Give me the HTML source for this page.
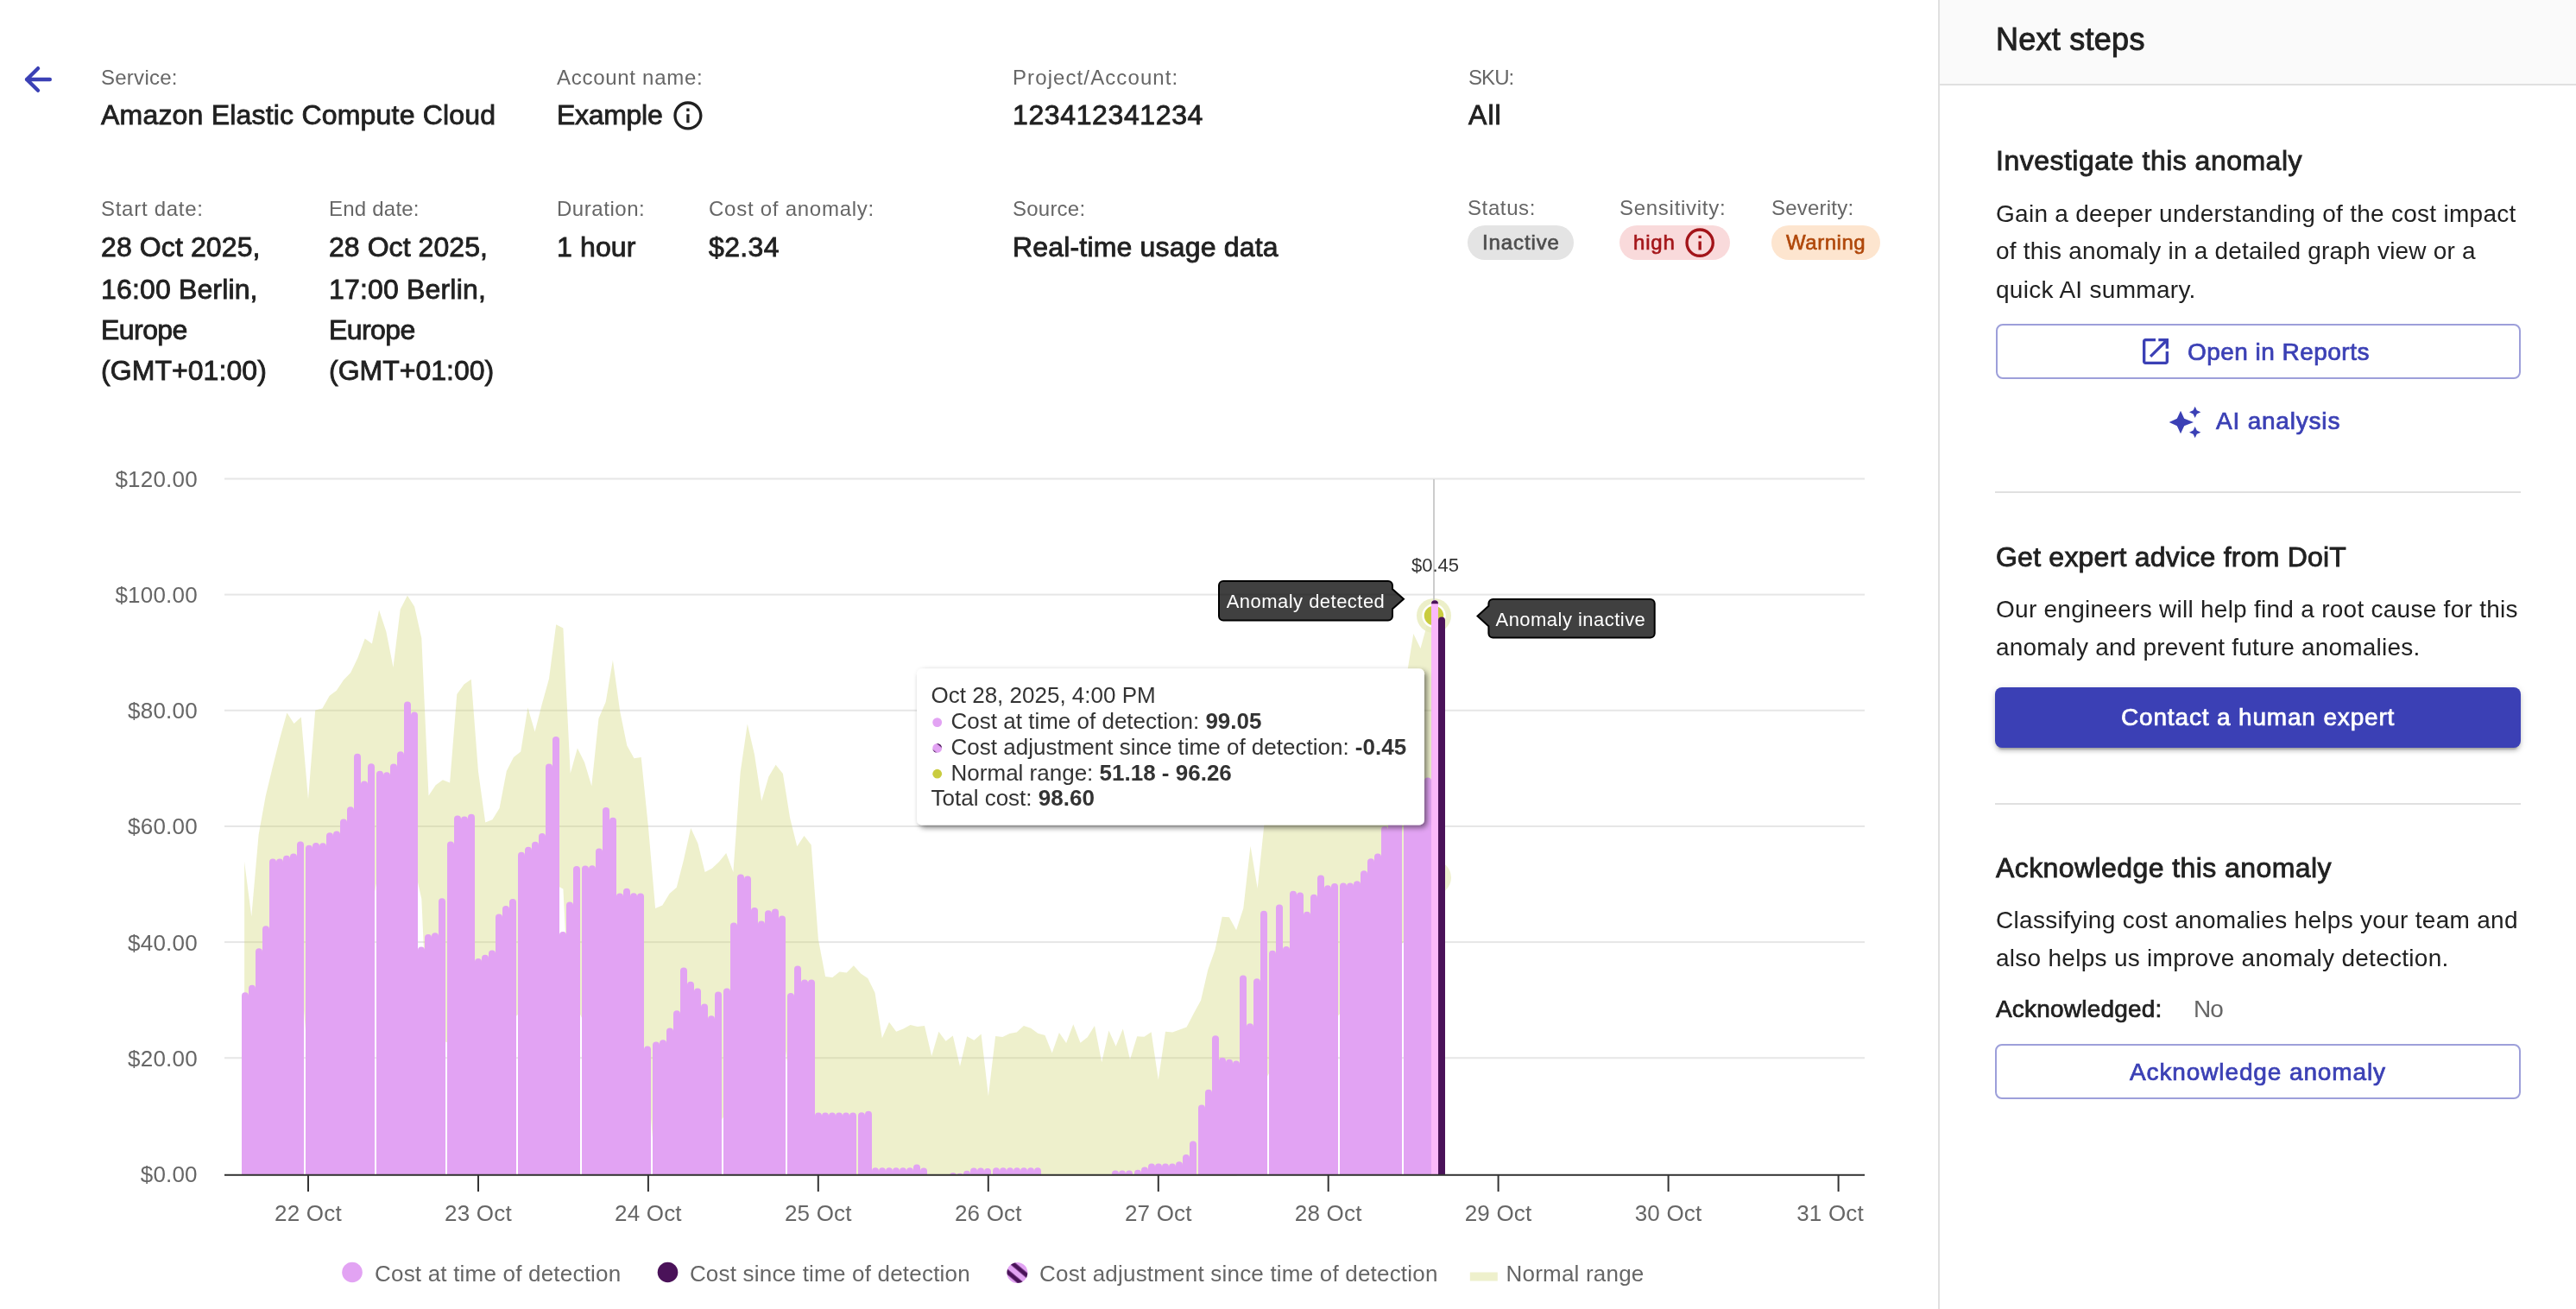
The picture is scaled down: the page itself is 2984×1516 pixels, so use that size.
<!DOCTYPE html><html><head><meta charset="utf-8"><title>Anomaly</title><style>
html,body{margin:0;padding:0;}
body{width:2984px;height:1516px;position:relative;overflow:hidden;background:#fff;font-family:"Liberation Sans", Arial, sans-serif;}
.abs{position:absolute;}
.t{position:absolute;white-space:nowrap;line-height:1.2;will-change:transform;}
.ax{font-size:26px;fill:#666666;letter-spacing:0.2px}
.lg{font-size:26px;fill:#666666;letter-spacing:0.2px}
</style></head><body><svg class="abs" width="2984" height="1516" viewBox="0 0 2984 1516" style="left:0;top:0;will-change:transform;font-family:'Liberation Sans',Arial,sans-serif"><rect x="260" y="553.50" width="1900" height="2" fill="#e6e6e6"/><rect x="260" y="687.65" width="1900" height="2" fill="#e6e6e6"/><rect x="260" y="821.80" width="1900" height="2" fill="#e6e6e6"/><rect x="260" y="955.95" width="1900" height="2" fill="#e6e6e6"/><rect x="260" y="1090.10" width="1900" height="2" fill="#e6e6e6"/><rect x="260" y="1224.25" width="1900" height="2" fill="#e6e6e6"/><polygon fill="rgb(206,212,109)" fill-opacity="0.35" points="283.1,998.0 291.3,1061.5 299.6,966.8 307.8,921.6 316.0,887.6 324.2,855.0 332.4,825.4 340.6,838.0 348.8,830.5 357.0,925.8 365.2,822.6 373.4,820.4 381.6,805.9 389.8,799.8 398.0,787.6 406.2,779.0 414.4,762.0 422.7,739.4 430.9,745.5 439.1,706.4 447.3,731.3 455.5,772.9 463.7,705.7 471.9,689.8 480.1,702.5 488.3,739.0 496.5,921.4 504.7,909.2 512.9,903.3 521.1,906.6 529.3,804.1 537.6,792.6 545.8,786.7 554.0,893.5 562.2,952.6 570.4,949.3 578.6,936.0 586.8,893.0 595.0,877.0 603.2,870.4 611.4,819.5 619.6,847.6 627.8,815.5 636.0,786.0 644.2,723.3 652.4,727.6 660.7,895.8 668.9,866.4 677.1,883.0 685.3,910.2 693.5,832.0 701.7,813.0 709.9,764.6 718.1,823.2 726.3,863.5 734.5,878.2 742.7,876.9 750.9,956.9 759.1,1052.0 767.3,1048.4 775.5,1035.0 783.8,1027.7 792.0,995.7 800.2,959.0 808.4,976.8 816.6,1010.0 824.8,1005.7 833.0,998.1 841.2,988.0 849.4,1010.0 857.6,894.8 865.8,838.6 874.0,874.0 882.2,927.8 890.4,899.6 898.6,885.7 906.9,896.0 915.1,947.3 923.3,980.3 931.5,968.0 939.7,978.6 947.9,1088.0 956.1,1131.0 964.3,1132.0 972.5,1125.5 980.7,1126.5 988.9,1118.2 997.1,1127.6 1005.3,1133.0 1013.5,1149.7 1021.8,1202.2 1030.0,1183.8 1038.2,1194.8 1046.4,1191.4 1054.6,1187.0 1062.8,1189.0 1071.0,1188.1 1079.2,1222.9 1087.4,1194.8 1095.6,1205.8 1103.8,1199.6 1112.0,1235.0 1120.2,1200.3 1128.4,1204.7 1136.6,1197.4 1144.9,1269.4 1153.1,1200.1 1161.3,1201.0 1169.5,1197.0 1177.7,1195.6 1185.9,1188.1 1194.1,1190.8 1202.3,1196.7 1210.5,1199.0 1218.7,1219.6 1226.9,1195.9 1235.1,1208.0 1243.3,1186.3 1251.5,1207.8 1259.7,1201.2 1268.0,1188.1 1276.2,1230.2 1284.4,1193.4 1292.6,1211.8 1300.8,1191.4 1309.0,1227.3 1317.2,1200.3 1325.4,1200.7 1333.6,1195.2 1341.8,1250.6 1350.0,1194.8 1358.2,1195.6 1366.4,1192.5 1374.6,1189.5 1382.9,1173.4 1391.1,1158.5 1399.3,1123.0 1407.5,1100.0 1415.7,1061.8 1423.9,1062.3 1432.1,1077.2 1440.3,1052.0 1448.5,979.8 1456.7,1029.0 1464.9,950.0 1473.1,935.8 1481.3,929.2 1489.5,922.8 1497.7,916.2 1506.0,909.8 1514.2,903.2 1522.4,896.8 1530.6,890.2 1538.8,883.8 1547.0,877.2 1555.2,869.3 1563.4,860.0 1571.6,850.7 1579.8,841.3 1588.0,832.0 1596.2,822.7 1604.4,813.3 1612.6,804.0 1620.8,794.7 1629.1,785.0 1637.3,734.0 1645.5,751.0 1653.7,721.0 1661.9,714.0 1661.9,1016.0 1653.7,1023.0 1645.5,1053.0 1637.3,1036.0 1629.1,1087.0 1620.8,1096.7 1612.6,1106.0 1604.4,1115.3 1596.2,1124.7 1588.0,1134.0 1579.8,1143.3 1571.6,1152.7 1563.4,1162.0 1555.2,1171.3 1547.0,1179.2 1538.8,1185.8 1530.6,1192.2 1522.4,1198.8 1514.2,1205.2 1506.0,1211.8 1497.7,1218.2 1489.5,1224.8 1481.3,1231.2 1473.1,1237.8 1464.9,1252.0 1456.7,1331.0 1448.5,1281.8 1440.3,1354.0 1432.1,1362.0 1423.9,1362.0 1415.7,1362.0 1407.5,1362.0 1399.3,1362.0 1391.1,1362.0 1382.9,1362.0 1374.6,1362.0 1366.4,1362.0 1358.2,1362.0 1350.0,1362.0 1341.8,1362.0 1333.6,1362.0 1325.4,1362.0 1317.2,1362.0 1309.0,1362.0 1300.8,1362.0 1292.6,1362.0 1284.4,1362.0 1276.2,1362.0 1268.0,1362.0 1259.7,1362.0 1251.5,1362.0 1243.3,1362.0 1235.1,1362.0 1226.9,1362.0 1218.7,1362.0 1210.5,1362.0 1202.3,1362.0 1194.1,1362.0 1185.9,1362.0 1177.7,1362.0 1169.5,1362.0 1161.3,1362.0 1153.1,1362.0 1144.9,1362.0 1136.6,1362.0 1128.4,1362.0 1120.2,1362.0 1112.0,1362.0 1103.8,1362.0 1095.6,1362.0 1087.4,1362.0 1079.2,1362.0 1071.0,1362.0 1062.8,1362.0 1054.6,1362.0 1046.4,1362.0 1038.2,1362.0 1030.0,1362.0 1021.8,1362.0 1013.5,1362.0 1005.3,1362.0 997.1,1362.0 988.9,1362.0 980.7,1362.0 972.5,1362.0 964.3,1362.0 956.1,1362.0 947.9,1362.0 939.7,1280.6 931.5,1270.0 923.3,1282.3 915.1,1249.3 906.9,1198.0 898.6,1187.7 890.4,1201.6 882.2,1229.8 874.0,1176.0 865.8,1140.6 857.6,1196.8 849.4,1312.0 841.2,1290.0 833.0,1300.1 824.8,1307.7 816.6,1312.0 808.4,1278.8 800.2,1261.0 792.0,1297.7 783.8,1329.7 775.5,1337.0 767.3,1350.4 759.1,1354.0 750.9,1258.9 742.7,1178.9 734.5,1180.2 726.3,1165.5 718.1,1125.2 709.9,1066.6 701.7,1115.0 693.5,1134.0 685.3,1212.2 677.1,1185.0 668.9,1168.4 660.7,1197.8 652.4,1029.6 644.2,1025.3 636.0,1088.0 627.8,1117.5 619.6,1149.6 611.4,1121.5 603.2,1172.4 595.0,1179.0 586.8,1195.0 578.6,1238.0 570.4,1251.3 562.2,1254.6 554.0,1195.5 545.8,1088.7 537.6,1094.6 529.3,1106.1 521.1,1208.6 512.9,1205.3 504.7,1211.2 496.5,1223.4 488.3,1041.0 480.1,1004.5 471.9,991.8 463.7,1007.7 455.5,1074.9 447.3,1033.3 439.1,1008.4 430.9,1047.5 422.7,1041.4 414.4,1064.0 406.2,1081.0 398.0,1089.6 389.8,1101.8 381.6,1107.9 373.4,1122.4 365.2,1124.6 357.0,1227.8 348.8,1132.5 340.6,1140.0 332.4,1127.4 324.2,1157.0 316.0,1189.6 307.8,1223.6 299.6,1268.8 291.3,1362.0 283.1,1300.0"/><circle cx="1661" cy="1016.4" r="20" fill="#eef0cc" opacity="0.9"/><circle cx="1661" cy="713" r="20" fill="#e9ecc0" opacity="0.85"/><circle cx="1661" cy="713" r="12.5" fill="#c9cc3f" stroke="#ffffff" stroke-width="2.5"/><g clip-path="url(#plotclip)"><path d="M280,1364.0 V1153.20 A4.0,4.0 0 0 1 288,1153.20 V1364.0 Z" fill="#e2a3f3"/><path d="M288,1364.0 V1144.70 A4.0,4.0 0 0 1 296,1144.70 V1364.0 Z" fill="#e2a3f3"/><path d="M296,1364.0 V1102.30 A4.0,4.0 0 0 1 304,1102.30 V1364.0 Z" fill="#e2a3f3"/><path d="M304,1364.0 V1076.30 A4.0,4.0 0 0 1 312,1076.30 V1364.0 Z" fill="#e2a3f3"/><path d="M312,1364.0 V998.50 A4.0,4.0 0 0 1 320,998.50 V1364.0 Z" fill="#e2a3f3"/><path d="M320,1364.0 V998.50 A4.0,4.0 0 0 1 328,998.50 V1364.0 Z" fill="#e2a3f3"/><path d="M328,1364.0 V994.80 A4.0,4.0 0 0 1 336,994.80 V1364.0 Z" fill="#e2a3f3"/><path d="M336,1364.0 V992.60 A4.0,4.0 0 0 1 344,992.60 V1364.0 Z" fill="#e2a3f3"/><path d="M344,1364.0 V978.40 A4.0,4.0 0 0 1 352,978.40 V1364.0 Z" fill="#e2a3f3"/><path d="M354,1364.0 V982.70 A4.0,4.0 0 0 1 362,982.70 V1364.0 Z" fill="#e2a3f3"/><path d="M362,1364.0 V980.10 A4.0,4.0 0 0 1 370,980.10 V1364.0 Z" fill="#e2a3f3"/><path d="M370,1364.0 V980.30 A4.0,4.0 0 0 1 378,980.30 V1364.0 Z" fill="#e2a3f3"/><path d="M378,1364.0 V968.20 A4.0,4.0 0 0 1 386,968.20 V1364.0 Z" fill="#e2a3f3"/><path d="M386,1364.0 V966.40 A4.0,4.0 0 0 1 394,966.40 V1364.0 Z" fill="#e2a3f3"/><path d="M394,1364.0 V952.50 A4.0,4.0 0 0 1 402,952.50 V1364.0 Z" fill="#e2a3f3"/><path d="M402,1364.0 V938.30 A4.0,4.0 0 0 1 410,938.30 V1364.0 Z" fill="#e2a3f3"/><path d="M410,1364.0 V876.70 A4.0,4.0 0 0 1 418,876.70 V1364.0 Z" fill="#e2a3f3"/><path d="M418,1364.0 V908.40 A4.0,4.0 0 0 1 426,908.40 V1364.0 Z" fill="#e2a3f3"/><path d="M426,1364.0 V888.20 A4.0,4.0 0 0 1 434,888.20 V1364.0 Z" fill="#e2a3f3"/><path d="M436,1364.0 V896.70 A4.0,4.0 0 0 1 444,896.70 V1364.0 Z" fill="#e2a3f3"/><path d="M444,1364.0 V898.20 A4.0,4.0 0 0 1 452,898.20 V1364.0 Z" fill="#e2a3f3"/><path d="M452,1364.0 V888.40 A4.0,4.0 0 0 1 460,888.40 V1364.0 Z" fill="#e2a3f3"/><path d="M460,1364.0 V874.20 A4.0,4.0 0 0 1 468,874.20 V1364.0 Z" fill="#e2a3f3"/><path d="M468,1364.0 V816.50 A4.0,4.0 0 0 1 476,816.50 V1364.0 Z" fill="#e2a3f3"/><path d="M476,1364.0 V828.40 A4.0,4.0 0 0 1 484,828.40 V1364.0 Z" fill="#e2a3f3"/><path d="M484,1364.0 V1100.50 A4.0,4.0 0 0 1 492,1100.50 V1364.0 Z" fill="#e2a3f3"/><path d="M492,1364.0 V1086.00 A4.0,4.0 0 0 1 500,1086.00 V1364.0 Z" fill="#e2a3f3"/><path d="M500,1364.0 V1084.30 A4.0,4.0 0 0 1 508,1084.30 V1364.0 Z" fill="#e2a3f3"/><path d="M508,1364.0 V1044.20 A4.0,4.0 0 0 1 516,1044.20 V1364.0 Z" fill="#e2a3f3"/><path d="M518,1364.0 V978.60 A4.0,4.0 0 0 1 526,978.60 V1364.0 Z" fill="#e2a3f3"/><path d="M526,1364.0 V948.40 A4.0,4.0 0 0 1 534,948.40 V1364.0 Z" fill="#e2a3f3"/><path d="M534,1364.0 V949.40 A4.0,4.0 0 0 1 542,949.40 V1364.0 Z" fill="#e2a3f3"/><path d="M542,1364.0 V946.70 A4.0,4.0 0 0 1 550,946.70 V1364.0 Z" fill="#e2a3f3"/><path d="M550,1364.0 V1114.00 A4.0,4.0 0 0 1 558,1114.00 V1364.0 Z" fill="#e2a3f3"/><path d="M558,1364.0 V1109.80 A4.0,4.0 0 0 1 566,1109.80 V1364.0 Z" fill="#e2a3f3"/><path d="M566,1364.0 V1104.50 A4.0,4.0 0 0 1 574,1104.50 V1364.0 Z" fill="#e2a3f3"/><path d="M574,1364.0 V1062.50 A4.0,4.0 0 0 1 582,1062.50 V1364.0 Z" fill="#e2a3f3"/><path d="M582,1364.0 V1052.90 A4.0,4.0 0 0 1 590,1052.90 V1364.0 Z" fill="#e2a3f3"/><path d="M590,1364.0 V1044.90 A4.0,4.0 0 0 1 598,1044.90 V1364.0 Z" fill="#e2a3f3"/><path d="M600,1364.0 V990.80 A4.0,4.0 0 0 1 608,990.80 V1364.0 Z" fill="#e2a3f3"/><path d="M608,1364.0 V984.70 A4.0,4.0 0 0 1 616,984.70 V1364.0 Z" fill="#e2a3f3"/><path d="M616,1364.0 V978.80 A4.0,4.0 0 0 1 624,978.80 V1364.0 Z" fill="#e2a3f3"/><path d="M624,1364.0 V968.90 A4.0,4.0 0 0 1 632,968.90 V1364.0 Z" fill="#e2a3f3"/><path d="M632,1364.0 V888.60 A4.0,4.0 0 0 1 640,888.60 V1364.0 Z" fill="#e2a3f3"/><path d="M640,1364.0 V857.00 A4.0,4.0 0 0 1 648,857.00 V1364.0 Z" fill="#e2a3f3"/><path d="M648,1364.0 V1083.00 A4.0,4.0 0 0 1 656,1083.00 V1364.0 Z" fill="#e2a3f3"/><path d="M656,1364.0 V1048.40 A4.0,4.0 0 0 1 664,1048.40 V1364.0 Z" fill="#e2a3f3"/><path d="M664,1364.0 V1006.90 A4.0,4.0 0 0 1 672,1006.90 V1364.0 Z" fill="#e2a3f3"/><path d="M674,1364.0 V1006.50 A4.0,4.0 0 0 1 682,1006.50 V1364.0 Z" fill="#e2a3f3"/><path d="M682,1364.0 V1006.30 A4.0,4.0 0 0 1 690,1006.30 V1364.0 Z" fill="#e2a3f3"/><path d="M690,1364.0 V986.60 A4.0,4.0 0 0 1 698,986.60 V1364.0 Z" fill="#e2a3f3"/><path d="M698,1364.0 V938.90 A4.0,4.0 0 0 1 706,938.90 V1364.0 Z" fill="#e2a3f3"/><path d="M706,1364.0 V950.80 A4.0,4.0 0 0 1 714,950.80 V1364.0 Z" fill="#e2a3f3"/><path d="M714,1364.0 V1038.60 A4.0,4.0 0 0 1 722,1038.60 V1364.0 Z" fill="#e2a3f3"/><path d="M722,1364.0 V1032.80 A4.0,4.0 0 0 1 730,1032.80 V1364.0 Z" fill="#e2a3f3"/><path d="M730,1364.0 V1038.30 A4.0,4.0 0 0 1 738,1038.30 V1364.0 Z" fill="#e2a3f3"/><path d="M738,1364.0 V1038.60 A4.0,4.0 0 0 1 746,1038.60 V1364.0 Z" fill="#e2a3f3"/><path d="M746,1364.0 V1215.40 A4.0,4.0 0 0 1 754,1215.40 V1364.0 Z" fill="#e2a3f3"/><path d="M756,1364.0 V1210.40 A4.0,4.0 0 0 1 764,1210.40 V1364.0 Z" fill="#e2a3f3"/><path d="M764,1364.0 V1208.30 A4.0,4.0 0 0 1 772,1208.30 V1364.0 Z" fill="#e2a3f3"/><path d="M772,1364.0 V1194.60 A4.0,4.0 0 0 1 780,1194.60 V1364.0 Z" fill="#e2a3f3"/><path d="M780,1364.0 V1174.20 A4.0,4.0 0 0 1 788,1174.20 V1364.0 Z" fill="#e2a3f3"/><path d="M788,1364.0 V1124.50 A4.0,4.0 0 0 1 796,1124.50 V1364.0 Z" fill="#e2a3f3"/><path d="M796,1364.0 V1140.70 A4.0,4.0 0 0 1 804,1140.70 V1364.0 Z" fill="#e2a3f3"/><path d="M804,1364.0 V1148.40 A4.0,4.0 0 0 1 812,1148.40 V1364.0 Z" fill="#e2a3f3"/><path d="M812,1364.0 V1166.50 A4.0,4.0 0 0 1 820,1166.50 V1364.0 Z" fill="#e2a3f3"/><path d="M820,1364.0 V1180.30 A4.0,4.0 0 0 1 828,1180.30 V1364.0 Z" fill="#e2a3f3"/><path d="M828,1364.0 V1152.50 A4.0,4.0 0 0 1 836,1152.50 V1364.0 Z" fill="#e2a3f3"/><path d="M838,1364.0 V1148.60 A4.0,4.0 0 0 1 846,1148.60 V1364.0 Z" fill="#e2a3f3"/><path d="M846,1364.0 V1072.60 A4.0,4.0 0 0 1 854,1072.60 V1364.0 Z" fill="#e2a3f3"/><path d="M854,1364.0 V1016.50 A4.0,4.0 0 0 1 862,1016.50 V1364.0 Z" fill="#e2a3f3"/><path d="M862,1364.0 V1018.40 A4.0,4.0 0 0 1 870,1018.40 V1364.0 Z" fill="#e2a3f3"/><path d="M870,1364.0 V1055.00 A4.0,4.0 0 0 1 878,1055.00 V1364.0 Z" fill="#e2a3f3"/><path d="M878,1364.0 V1070.60 A4.0,4.0 0 0 1 886,1070.60 V1364.0 Z" fill="#e2a3f3"/><path d="M886,1364.0 V1058.30 A4.0,4.0 0 0 1 894,1058.30 V1364.0 Z" fill="#e2a3f3"/><path d="M894,1364.0 V1056.40 A4.0,4.0 0 0 1 902,1056.40 V1364.0 Z" fill="#e2a3f3"/><path d="M902,1364.0 V1064.40 A4.0,4.0 0 0 1 910,1064.40 V1364.0 Z" fill="#e2a3f3"/><path d="M912,1364.0 V1154.10 A4.0,4.0 0 0 1 920,1154.10 V1364.0 Z" fill="#e2a3f3"/><path d="M920,1364.0 V1122.50 A4.0,4.0 0 0 1 928,1122.50 V1364.0 Z" fill="#e2a3f3"/><path d="M928,1364.0 V1138.50 A4.0,4.0 0 0 1 936,1138.50 V1364.0 Z" fill="#e2a3f3"/><path d="M936,1364.0 V1138.50 A4.0,4.0 0 0 1 944,1138.50 V1364.0 Z" fill="#e2a3f3"/><path d="M944,1364.0 V1292.50 A4.0,4.0 0 0 1 952,1292.50 V1364.0 Z" fill="#e2a3f3"/><path d="M952,1364.0 V1292.50 A4.0,4.0 0 0 1 960,1292.50 V1364.0 Z" fill="#e2a3f3"/><path d="M960,1364.0 V1292.50 A4.0,4.0 0 0 1 968,1292.50 V1364.0 Z" fill="#e2a3f3"/><path d="M968,1364.0 V1292.50 A4.0,4.0 0 0 1 976,1292.50 V1364.0 Z" fill="#e2a3f3"/><path d="M976,1364.0 V1292.50 A4.0,4.0 0 0 1 984,1292.50 V1364.0 Z" fill="#e2a3f3"/><path d="M984,1364.0 V1292.50 A4.0,4.0 0 0 1 992,1292.50 V1364.0 Z" fill="#e2a3f3"/><path d="M994,1364.0 V1292.20 A4.0,4.0 0 0 1 1002,1292.20 V1364.0 Z" fill="#e2a3f3"/><path d="M1002,1364.0 V1290.70 A4.0,4.0 0 0 1 1010,1290.70 V1364.0 Z" fill="#e2a3f3"/><path d="M1010,1364.0 V1356.30 A4.0,4.0 0 0 1 1018,1356.30 V1364.0 Z" fill="#e2a3f3"/><path d="M1018,1364.0 V1356.30 A4.0,4.0 0 0 1 1026,1356.30 V1364.0 Z" fill="#e2a3f3"/><path d="M1026,1364.0 V1356.30 A4.0,4.0 0 0 1 1034,1356.30 V1364.0 Z" fill="#e2a3f3"/><path d="M1034,1364.0 V1356.30 A4.0,4.0 0 0 1 1042,1356.30 V1364.0 Z" fill="#e2a3f3"/><path d="M1042,1364.0 V1356.30 A4.0,4.0 0 0 1 1050,1356.30 V1364.0 Z" fill="#e2a3f3"/><path d="M1050,1364.0 V1356.30 A4.0,4.0 0 0 1 1058,1356.30 V1364.0 Z" fill="#e2a3f3"/><path d="M1058,1364.0 V1352.60 A4.0,4.0 0 0 1 1066,1352.60 V1364.0 Z" fill="#e2a3f3"/><path d="M1066,1364.0 V1356.60 A4.0,4.0 0 0 1 1074,1356.60 V1364.0 Z" fill="#e2a3f3"/><path d="M1100,1364.0 V1362.00 A4.0,4.0 0 0 1 1108,1362.00 V1364.0 Z" fill="#e2a3f3"/><path d="M1108,1364.0 V1362.70 A4.0,4.0 0 0 1 1116,1362.70 V1364.0 Z" fill="#e2a3f3"/><path d="M1116,1364.0 V1359.80 A4.0,4.0 0 0 1 1124,1359.80 V1364.0 Z" fill="#e2a3f3"/><path d="M1124,1364.0 V1356.50 A4.0,4.0 0 0 1 1132,1356.50 V1364.0 Z" fill="#e2a3f3"/><path d="M1132,1364.0 V1356.50 A4.0,4.0 0 0 1 1140,1356.50 V1364.0 Z" fill="#e2a3f3"/><path d="M1140,1364.0 V1356.90 A4.0,4.0 0 0 1 1148,1356.90 V1364.0 Z" fill="#e2a3f3"/><path d="M1150,1364.0 V1356.30 A4.0,4.0 0 0 1 1158,1356.30 V1364.0 Z" fill="#e2a3f3"/><path d="M1158,1364.0 V1356.30 A4.0,4.0 0 0 1 1166,1356.30 V1364.0 Z" fill="#e2a3f3"/><path d="M1166,1364.0 V1356.30 A4.0,4.0 0 0 1 1174,1356.30 V1364.0 Z" fill="#e2a3f3"/><path d="M1174,1364.0 V1356.30 A4.0,4.0 0 0 1 1182,1356.30 V1364.0 Z" fill="#e2a3f3"/><path d="M1182,1364.0 V1356.30 A4.0,4.0 0 0 1 1190,1356.30 V1364.0 Z" fill="#e2a3f3"/><path d="M1190,1364.0 V1356.30 A4.0,4.0 0 0 1 1198,1356.30 V1364.0 Z" fill="#e2a3f3"/><path d="M1198,1364.0 V1356.30 A4.0,4.0 0 0 1 1206,1356.30 V1364.0 Z" fill="#e2a3f3"/><path d="M1288,1364.0 V1359.40 A4.0,4.0 0 0 1 1296,1359.40 V1364.0 Z" fill="#e2a3f3"/><path d="M1296,1364.0 V1359.40 A4.0,4.0 0 0 1 1304,1359.40 V1364.0 Z" fill="#e2a3f3"/><path d="M1304,1364.0 V1359.40 A4.0,4.0 0 0 1 1312,1359.40 V1364.0 Z" fill="#e2a3f3"/><path d="M1314,1364.0 V1358.70 A4.0,4.0 0 0 1 1322,1358.70 V1364.0 Z" fill="#e2a3f3"/><path d="M1322,1364.0 V1355.40 A4.0,4.0 0 0 1 1330,1355.40 V1364.0 Z" fill="#e2a3f3"/><path d="M1330,1364.0 V1351.40 A4.0,4.0 0 0 1 1338,1351.40 V1364.0 Z" fill="#e2a3f3"/><path d="M1338,1364.0 V1351.40 A4.0,4.0 0 0 1 1346,1351.40 V1364.0 Z" fill="#e2a3f3"/><path d="M1346,1364.0 V1351.40 A4.0,4.0 0 0 1 1354,1351.40 V1364.0 Z" fill="#e2a3f3"/><path d="M1354,1364.0 V1351.40 A4.0,4.0 0 0 1 1362,1351.40 V1364.0 Z" fill="#e2a3f3"/><path d="M1362,1364.0 V1349.20 A4.0,4.0 0 0 1 1370,1349.20 V1364.0 Z" fill="#e2a3f3"/><path d="M1370,1364.0 V1341.00 A4.0,4.0 0 0 1 1378,1341.00 V1364.0 Z" fill="#e2a3f3"/><path d="M1378,1364.0 V1325.50 A4.0,4.0 0 0 1 1386,1325.50 V1364.0 Z" fill="#e2a3f3"/><path d="M1388,1364.0 V1283.40 A4.0,4.0 0 0 1 1396,1283.40 V1364.0 Z" fill="#e2a3f3"/><path d="M1396,1364.0 V1265.70 A4.0,4.0 0 0 1 1404,1265.70 V1364.0 Z" fill="#e2a3f3"/><path d="M1404,1364.0 V1203.20 A4.0,4.0 0 0 1 1412,1203.20 V1364.0 Z" fill="#e2a3f3"/><path d="M1412,1364.0 V1228.80 A4.0,4.0 0 0 1 1420,1228.80 V1364.0 Z" fill="#e2a3f3"/><path d="M1420,1364.0 V1230.70 A4.0,4.0 0 0 1 1428,1230.70 V1364.0 Z" fill="#e2a3f3"/><path d="M1428,1364.0 V1232.60 A4.0,4.0 0 0 1 1436,1232.60 V1364.0 Z" fill="#e2a3f3"/><path d="M1436,1364.0 V1133.50 A4.0,4.0 0 0 1 1444,1133.50 V1364.0 Z" fill="#e2a3f3"/><path d="M1444,1364.0 V1189.30 A4.0,4.0 0 0 1 1452,1189.30 V1364.0 Z" fill="#e2a3f3"/><path d="M1452,1364.0 V1137.20 A4.0,4.0 0 0 1 1460,1137.20 V1364.0 Z" fill="#e2a3f3"/><path d="M1460,1364.0 V1058.80 A4.0,4.0 0 0 1 1468,1058.80 V1364.0 Z" fill="#e2a3f3"/><path d="M1470,1364.0 V1104.80 A4.0,4.0 0 0 1 1478,1104.80 V1364.0 Z" fill="#e2a3f3"/><path d="M1478,1364.0 V1051.60 A4.0,4.0 0 0 1 1486,1051.60 V1364.0 Z" fill="#e2a3f3"/><path d="M1486,1364.0 V1099.90 A4.0,4.0 0 0 1 1494,1099.90 V1364.0 Z" fill="#e2a3f3"/><path d="M1494,1364.0 V1035.70 A4.0,4.0 0 0 1 1502,1035.70 V1364.0 Z" fill="#e2a3f3"/><path d="M1502,1364.0 V1037.50 A4.0,4.0 0 0 1 1510,1037.50 V1364.0 Z" fill="#e2a3f3"/><path d="M1510,1364.0 V1059.80 A4.0,4.0 0 0 1 1518,1059.80 V1364.0 Z" fill="#e2a3f3"/><path d="M1518,1364.0 V1039.80 A4.0,4.0 0 0 1 1526,1039.80 V1364.0 Z" fill="#e2a3f3"/><path d="M1526,1364.0 V1017.40 A4.0,4.0 0 0 1 1534,1017.40 V1364.0 Z" fill="#e2a3f3"/><path d="M1534,1364.0 V1029.30 A4.0,4.0 0 0 1 1542,1029.30 V1364.0 Z" fill="#e2a3f3"/><path d="M1542,1364.0 V1027.00 A4.0,4.0 0 0 1 1550,1027.00 V1364.0 Z" fill="#e2a3f3"/><path d="M1552,1364.0 V1026.50 A4.0,4.0 0 0 1 1560,1026.50 V1364.0 Z" fill="#e2a3f3"/><path d="M1560,1364.0 V1026.50 A4.0,4.0 0 0 1 1568,1026.50 V1364.0 Z" fill="#e2a3f3"/><path d="M1568,1364.0 V1024.30 A4.0,4.0 0 0 1 1576,1024.30 V1364.0 Z" fill="#e2a3f3"/><path d="M1576,1364.0 V1012.30 A4.0,4.0 0 0 1 1584,1012.30 V1364.0 Z" fill="#e2a3f3"/><path d="M1584,1364.0 V998.30 A4.0,4.0 0 0 1 1592,998.30 V1364.0 Z" fill="#e2a3f3"/><path d="M1592,1364.0 V992.40 A4.0,4.0 0 0 1 1600,992.40 V1364.0 Z" fill="#e2a3f3"/><path d="M1600,1364.0 V961.00 A4.0,4.0 0 0 1 1608,961.00 V1364.0 Z" fill="#e2a3f3"/><path d="M1608,1364.0 V956.00 A4.0,4.0 0 0 1 1616,956.00 V1364.0 Z" fill="#e2a3f3"/><path d="M1616,1364.0 V949.00 A4.0,4.0 0 0 1 1624,949.00 V1364.0 Z" fill="#e2a3f3"/><path d="M1626,1364.0 V939.00 A4.0,4.0 0 0 1 1634,939.00 V1364.0 Z" fill="#e2a3f3"/><path d="M1634,1364.0 V924.00 A4.0,4.0 0 0 1 1642,924.00 V1364.0 Z" fill="#e2a3f3"/><path d="M1642,1364.0 V914.00 A4.0,4.0 0 0 1 1650,914.00 V1364.0 Z" fill="#e2a3f3"/><path d="M1650,1364.0 V904.40 A4.0,4.0 0 0 1 1658,904.40 V1364.0 Z" fill="#e2a3f3"/></g><g clip-path="url(#plotclip)"><path d="M1658,1364.0 V699.30 A4.0,4.0 0 0 1 1666,699.30 V1364.0 Z" fill="#fab8fa"/><path d="M1658,699.3 V699.3 A4,4 0 0 1 1666,699.3 Z" fill="#4a1259"/><path d="M1666,1364.0 V718.60 A4.0,4.0 0 0 1 1674,718.60 V1364.0 Z" fill="#4a1259"/></g><rect x="260" y="1359.8" width="1900" height="2" fill="#333333"/><rect x="356.0" y="1361" width="2" height="19" fill="#333333"/><rect x="553.0" y="1361" width="2" height="19" fill="#333333"/><rect x="749.9" y="1361" width="2" height="19" fill="#333333"/><rect x="946.8" y="1361" width="2" height="19" fill="#333333"/><rect x="1143.8" y="1361" width="2" height="19" fill="#333333"/><rect x="1340.8" y="1361" width="2" height="19" fill="#333333"/><rect x="1537.7" y="1361" width="2" height="19" fill="#333333"/><rect x="1734.6" y="1361" width="2" height="19" fill="#333333"/><rect x="1931.6" y="1361" width="2" height="19" fill="#333333"/><rect x="2128.6" y="1361" width="2" height="19" fill="#333333"/><text x="357.0" y="1414" text-anchor="middle" class="ax">22 Oct</text><text x="554.0" y="1414" text-anchor="middle" class="ax">23 Oct</text><text x="750.9" y="1414" text-anchor="middle" class="ax">24 Oct</text><text x="947.8" y="1414" text-anchor="middle" class="ax">25 Oct</text><text x="1144.8" y="1414" text-anchor="middle" class="ax">26 Oct</text><text x="1341.8" y="1414" text-anchor="middle" class="ax">27 Oct</text><text x="1538.7" y="1414" text-anchor="middle" class="ax">28 Oct</text><text x="1735.6" y="1414" text-anchor="middle" class="ax">29 Oct</text><text x="1932.6" y="1414" text-anchor="middle" class="ax">30 Oct</text><text x="2159" y="1414" text-anchor="end" class="ax">31 Oct</text><text x="228.8" y="564.0" text-anchor="end" class="ax">$120.00</text><text x="228.8" y="698.1" text-anchor="end" class="ax">$100.00</text><text x="228.8" y="832.2" text-anchor="end" class="ax">$80.00</text><text x="228.8" y="966.4" text-anchor="end" class="ax">$60.00</text><text x="228.8" y="1100.5" text-anchor="end" class="ax">$40.00</text><text x="228.8" y="1234.7" text-anchor="end" class="ax">$20.00</text><text x="228.8" y="1368.9" text-anchor="end" class="ax">$0.00</text><rect x="1660" y="555" width="2" height="140" fill="#cccccc"/><text x="1662.5" y="661.8" text-anchor="middle" style="font-size:22px;fill:#333333">$0.45</text><path d="M1417,673 H1608 a5,5 0 0 1 5,5 V682.2 L1626,693.7 L1613,705.2 V713.6 a5,5 0 0 1 -5,5 H1417 a5,5 0 0 1 -5,-5 V678 a5,5 0 0 1 5,-5 Z" fill="rgba(0,0,0,0.75)" stroke="#000" stroke-width="2"/><text x="1420.7" y="703.9" style="font-size:22px;fill:#ffffff;letter-spacing:0.47px">Anomaly detected</text><path d="M1729.4,694 H1911.7 a5,5 0 0 1 5,5 V733.6 a5,5 0 0 1 -5,5 H1729.4 a5,5 0 0 1 -5,-5 V725.3 L1711.5,713.5 L1724.4,701.7 V699 a5,5 0 0 1 5,-5 Z" fill="rgba(0,0,0,0.75)" stroke="#000" stroke-width="2"/><text x="1732.5" y="724.5" style="font-size:22px;fill:#ffffff;letter-spacing:0.47px">Anomaly inactive</text><defs><clipPath id="plotclip"><rect x="250" y="500" width="1950" height="860"/></clipPath><filter id="sh" x="-5%" y="-5%" width="115%" height="120%"><feGaussianBlur in="SourceAlpha" stdDeviation="3"/><feOffset dx="3" dy="3" result="b"/><feComponentTransfer><feFuncA type="linear" slope="0.5"/></feComponentTransfer><feMerge><feMergeNode/><feMergeNode in="SourceGraphic"/></feMerge></filter><pattern id="stripe" patternUnits="userSpaceOnUse" width="30" height="11.3" patternTransform="translate(1178.4,1473.9) rotate(40)"><rect width="30" height="11.3" fill="#e2a3f3"/><rect y="4.1" width="30" height="5" fill="#4a1259"/></pattern><pattern id="stripe2" patternUnits="userSpaceOnUse" width="30" height="13.3" patternTransform="translate(1085.7,866.4) rotate(40)"><rect width="30" height="13.3" fill="#e2a3f3"/><rect y="4.6" width="30" height="5" fill="#4a1259"/></pattern></defs><rect x="1062" y="774.2" width="588" height="181.3" rx="6" fill="#ffffff" filter="url(#sh)"/><g style="font-size:26px;fill:#333333"><text x="1078.5" y="813.6">Oct 28, 2025, 4:00 PM</text><circle cx="1085.7" cy="836.6" r="5.4" fill="#e2a3f3"/><text x="1101.6" y="843.6">Cost at time of detection: <tspan font-weight="700">99.05</tspan></text><circle cx="1085.7" cy="866.4" r="5.4" fill="url(#stripe2)"/><text x="1101.6" y="873.8">Cost adjustment since time of detection: <tspan font-weight="700">-0.45</tspan></text><circle cx="1085.7" cy="896.2" r="5.4" fill="#c9cc3f"/><text x="1101.6" y="903.6">Normal range: <tspan font-weight="700">51.18 - 96.26</tspan></text><text x="1078.5" y="933.4">Total cost: <tspan font-weight="700">98.60</tspan></text></g><circle cx="408" cy="1473.5" r="11.8" fill="#e2a3f3"/><text x="434" y="1483.5" class="lg">Cost at time of detection</text><circle cx="773.5" cy="1473.5" r="11.8" fill="#4a1259"/><text x="798.9" y="1483.5" class="lg">Cost since time of detection</text><circle cx="1178.4" cy="1473.9" r="12" fill="url(#stripe)"/><text x="1204" y="1483.5" class="lg">Cost adjustment since time of detection</text><rect x="1702.8" y="1473.5" width="32" height="10" fill="#eef0cc"/><text x="1744.6" y="1483.5" class="lg">Normal range</text></svg><div class="abs" style="left:2245px;top:0;width:739px;height:1516px;border-left:2px solid #e0e0e0;background:#fff"></div><div class="abs" style="left:2247px;top:0;width:737px;height:96.6px;background:#fafafa;border-bottom:2px solid #e0e0e0"></div><div class="abs" style="left:2311px;top:569.2px;width:609px;height:2px;background:#e0e0e0"></div><div class="abs" style="left:2311px;top:929.7px;width:609px;height:2px;background:#e0e0e0"></div><div class="abs" style="left:2312px;top:375px;width:604px;height:60px;border:2px solid #9d9fda;border-radius:8px"></div><div class="abs" style="left:2311px;top:796px;width:609px;height:70px;background:#3b40b5;border-radius:8px;box-shadow:0 6px 2px -4px rgba(0,0,0,0.2),0 4px 4px 0 rgba(0,0,0,0.14),0 2px 10px 0 rgba(0,0,0,0.12)"></div><div class="abs" style="left:2311px;top:1208.5px;width:605px;height:60.5px;border:2px solid #9d9fda;border-radius:8px"></div><div class="abs" style="left:1700px;top:261px;width:122.7px;height:40px;border-radius:20px;background:#e4e4e4"></div><div class="abs" style="left:1875.8px;top:261px;width:127.9px;height:40px;border-radius:20px;background:#f9dadb"></div><div class="abs" style="left:2052px;top:261px;width:125.6px;height:40px;border-radius:20px;background:#fde5cf"></div><svg class="abs" style="left:0;top:0" width="80" height="130"><path d="M57.8,92 H31 M44,79.2 L31,92 L44,104.8" fill="none" stroke="#3b40b5" stroke-width="4.4" stroke-linecap="round" stroke-linejoin="round"/></svg><svg class="abs" style="left:776.98px;top:113.98px" width="39.84" height="39.84" viewBox="0 0 24 24"><path d="M11 7h2v2h-2zm0 4h2v6h-2zm1-9C6.48 2 2 6.48 2 12s4.48 10 10 10 10-4.48 10-10S17.52 2 12 2m0 18c-4.41 0-8-3.59-8-8s3.59-8 8-8 8 3.59 8 8-3.59 8-8 8" fill="#212121"/></svg><svg class="abs" style="left:1948.74px;top:260.84px" width="40.32" height="40.32" viewBox="0 0 24 24"><path d="M11 7h2v2h-2zm0 4h2v6h-2zm1-9C6.48 2 2 6.48 2 12s4.48 10 10 10 10-4.48 10-10S17.52 2 12 2m0 18c-4.41 0-8-3.59-8-8s3.59-8 8-8 8 3.59 8 8-3.59 8-8 8" fill="#a31419"/></svg><svg class="abs" style="left:2477.00px;top:387.00px" width="40.00" height="40.00" viewBox="0 0 24 24"><path d="M19 19H5V5h7V3H5c-1.11 0-2 .9-2 2v14c0 1.1.89 2 2 2h14c1.1 0 2-.9 2-2v-7h-2v7zM14 3v2h3.59l-9.83 9.83 1.41 1.41L19 6.41V10h2V3h-7z" fill="#3b40b5"/></svg><svg class="abs" style="left:2510.80px;top:468.50px" width="40.00" height="40.00" viewBox="0 0 24 24"><path d="m19 9 1.25-2.75L23 5l-2.75-1.25L19 1l-1.25 2.75L15 5l2.75 1.25zm-7.5.5L9 4 6.5 9.5 1 12l5.5 2.5L9 20l2.5-5.5L18 12zM19 15l-1.25 2.75L15 19l2.75 1.25L19 23l1.25-2.75L23 19l-2.75-1.25z" fill="#3b40b5"/></svg><div id="svc_l" class="t" style="left:116.5px;top:75.5px;font-size:24px;font-weight:400;color:#666666;letter-spacing:0.257px;">Service:</div><div id="svc_v" class="t" style="left:116.5px;top:114.2px;font-size:32px;font-weight:400;color:#212121;letter-spacing:0.198px;-webkit-text-stroke:0.85px #212121;">Amazon Elastic Compute Cloud</div><div id="acc_l" class="t" style="left:645.0px;top:75.5px;font-size:24px;font-weight:400;color:#666666;letter-spacing:0.717px;">Account name:</div><div id="acc_v" class="t" style="left:645.0px;top:114.2px;font-size:32px;font-weight:400;color:#212121;letter-spacing:-0.300px;-webkit-text-stroke:0.85px #212121;">Example</div><div id="prj_l" class="t" style="left:1173.0px;top:75.5px;font-size:24px;font-weight:400;color:#666666;letter-spacing:1.097px;">Project/Account:</div><div id="prj_v" class="t" style="left:1173.0px;top:114.2px;font-size:32px;font-weight:400;color:#212121;letter-spacing:0.622px;-webkit-text-stroke:0.85px #212121;">123412341234</div><div id="sku_l" class="t" style="left:1700.5px;top:75.5px;font-size:24px;font-weight:400;color:#666666;letter-spacing:-0.939px;">SKU:</div><div id="sku_v" class="t" style="left:1700.5px;top:114.2px;font-size:32px;font-weight:400;color:#212121;letter-spacing:1.069px;-webkit-text-stroke:0.85px #212121;">All</div><div id="sd_l" class="t" style="left:116.5px;top:228.3px;font-size:24px;font-weight:400;color:#666666;letter-spacing:0.717px;">Start date:</div><div id="sd_v0" class="t" style="left:116.5px;top:267.3px;font-size:32px;font-weight:400;color:#212121;letter-spacing:0.115px;-webkit-text-stroke:0.85px #212121;">28 Oct 2025,</div><div id="sd_v1" class="t" style="left:116.5px;top:315.6px;font-size:32px;font-weight:400;color:#212121;letter-spacing:0.152px;-webkit-text-stroke:0.85px #212121;">16:00 Berlin,</div><div id="sd_v2" class="t" style="left:116.5px;top:362.5px;font-size:32px;font-weight:400;color:#212121;letter-spacing:-0.557px;-webkit-text-stroke:0.85px #212121;">Europe</div><div id="sd_v3" class="t" style="left:116.5px;top:409.9px;font-size:32px;font-weight:400;color:#212121;letter-spacing:0.063px;-webkit-text-stroke:0.85px #212121;">(GMT+01:00)</div><div id="ed_l" class="t" style="left:381.0px;top:228.3px;font-size:24px;font-weight:400;color:#666666;letter-spacing:0.219px;">End date:</div><div id="ed_v0" class="t" style="left:381.0px;top:267.3px;font-size:32px;font-weight:400;color:#212121;letter-spacing:0.061px;-webkit-text-stroke:0.85px #212121;">28 Oct 2025,</div><div id="ed_v1" class="t" style="left:381.0px;top:315.6px;font-size:32px;font-weight:400;color:#212121;letter-spacing:0.177px;-webkit-text-stroke:0.85px #212121;">17:00 Berlin,</div><div id="ed_v2" class="t" style="left:381.0px;top:362.5px;font-size:32px;font-weight:400;color:#212121;letter-spacing:-0.598px;-webkit-text-stroke:0.85px #212121;">Europe</div><div id="ed_v3" class="t" style="left:381.0px;top:409.9px;font-size:32px;font-weight:400;color:#212121;letter-spacing:0.003px;-webkit-text-stroke:0.85px #212121;">(GMT+01:00)</div><div id="du_l" class="t" style="left:644.7px;top:228.3px;font-size:24px;font-weight:400;color:#666666;letter-spacing:0.539px;">Duration:</div><div id="du_v" class="t" style="left:644.7px;top:267.3px;font-size:32px;font-weight:400;color:#212121;letter-spacing:0.133px;-webkit-text-stroke:0.85px #212121;">1 hour</div><div id="co_l" class="t" style="left:820.7px;top:228.3px;font-size:24px;font-weight:400;color:#666666;letter-spacing:0.747px;">Cost of anomaly:</div><div id="co_v" class="t" style="left:820.7px;top:267.3px;font-size:32px;font-weight:400;color:#212121;letter-spacing:0.355px;-webkit-text-stroke:0.85px #212121;">$2.34</div><div id="so_l" class="t" style="left:1173.0px;top:228.3px;font-size:24px;font-weight:400;color:#666666;letter-spacing:0.230px;">Source:</div><div id="so_v" class="t" style="left:1173.0px;top:267.3px;font-size:32px;font-weight:400;color:#212121;letter-spacing:0.180px;-webkit-text-stroke:0.85px #212121;">Real-time usage data</div><div id="st_l" class="t" style="left:1700.0px;top:227.3px;font-size:24px;font-weight:400;color:#666666;letter-spacing:0.614px;">Status:</div><div id="se_l" class="t" style="left:1875.8px;top:227.3px;font-size:24px;font-weight:400;color:#666666;letter-spacing:0.718px;">Sensitivity:</div><div id="sv_l" class="t" style="left:2052.4px;top:227.3px;font-size:24px;font-weight:400;color:#666666;letter-spacing:0.216px;">Severity:</div><div id="chip1" class="t" style="left:1716.5px;top:267.2px;font-size:24px;font-weight:400;color:#4d4d4d;letter-spacing:0.883px;-webkit-text-stroke:0.64px #4d4d4d;">Inactive</div><div id="chip2" class="t" style="left:1892.2px;top:267.2px;font-size:24px;font-weight:400;color:#a4161a;letter-spacing:0.808px;-webkit-text-stroke:0.64px #a4161a;">high</div><div id="chip3" class="t" style="left:2069.2px;top:267.2px;font-size:24px;font-weight:400;color:#b0480b;letter-spacing:0.519px;-webkit-text-stroke:0.64px #b0480b;">Warning</div><div id="ns" class="t" style="left:2312.2px;top:24.4px;font-size:36px;font-weight:400;color:#212121;letter-spacing:0.258px;-webkit-text-stroke:0.96px #212121;">Next steps</div><div id="inv_t" class="t" style="left:2312.2px;top:166.6px;font-size:32px;font-weight:400;color:#212121;letter-spacing:0.487px;-webkit-text-stroke:0.85px #212121;">Investigate this anomaly</div><div id="inv_b0" class="t" style="left:2312.2px;top:230.7px;font-size:28px;font-weight:400;color:#212121;letter-spacing:0.275px;">Gain a deeper understanding of the cost impact</div><div id="inv_b1" class="t" style="left:2312.2px;top:274.4px;font-size:28px;font-weight:400;color:#212121;letter-spacing:0.213px;">of this anomaly in a detailed graph view or a</div><div id="inv_b2" class="t" style="left:2312.2px;top:318.5px;font-size:28px;font-weight:400;color:#212121;letter-spacing:0.296px;">quick AI summary.</div><div id="btn_open" class="t" style="left:2533.6px;top:390.5px;font-size:28px;font-weight:400;color:#3b40b5;letter-spacing:0.465px;-webkit-text-stroke:0.74px #3b40b5;">Open in Reports</div><div id="btn_ai" class="t" style="left:2567.3px;top:471.0px;font-size:28px;font-weight:400;color:#3b40b5;letter-spacing:0.799px;-webkit-text-stroke:0.74px #3b40b5;">AI analysis</div><div id="exp_t" class="t" style="left:2312.2px;top:625.8px;font-size:32px;font-weight:400;color:#212121;letter-spacing:0.222px;-webkit-text-stroke:0.85px #212121;">Get expert advice from DoiT</div><div id="exp_b0" class="t" style="left:2312.2px;top:689.4px;font-size:28px;font-weight:400;color:#212121;letter-spacing:0.267px;">Our engineers will help find a root cause for this</div><div id="exp_b1" class="t" style="left:2312.2px;top:733.0px;font-size:28px;font-weight:400;color:#212121;letter-spacing:0.198px;">anomaly and prevent future anomalies.</div><div id="btn_contact" class="t" style="left:2456.9px;top:813.6px;font-size:28px;font-weight:400;color:#ffffff;letter-spacing:0.836px;-webkit-text-stroke:0.74px #ffffff;">Contact a human expert</div><div id="ack_t" class="t" style="left:2312.2px;top:985.7px;font-size:32px;font-weight:400;color:#212121;letter-spacing:0.418px;-webkit-text-stroke:0.85px #212121;">Acknowledge this anomaly</div><div id="ack_b0" class="t" style="left:2312.2px;top:1048.8px;font-size:28px;font-weight:400;color:#212121;letter-spacing:0.291px;">Classifying cost anomalies helps your team and</div><div id="ack_b1" class="t" style="left:2312.2px;top:1092.9px;font-size:28px;font-weight:400;color:#212121;letter-spacing:0.274px;">also helps us improve anomaly detection.</div><div id="ack_k" class="t" style="left:2312.2px;top:1152.1px;font-size:28px;font-weight:400;color:#212121;letter-spacing:0.199px;-webkit-text-stroke:0.74px #212121;">Acknowledged:</div><div id="ack_no" class="t" style="left:2541.0px;top:1152.1px;font-size:28px;font-weight:400;color:#666666;letter-spacing:-0.897px;">No</div><div id="btn_ack" class="t" style="left:2466.7px;top:1224.7px;font-size:28px;font-weight:400;color:#3b40b5;letter-spacing:0.885px;-webkit-text-stroke:0.74px #3b40b5;">Acknowledge anomaly</div></body></html>
